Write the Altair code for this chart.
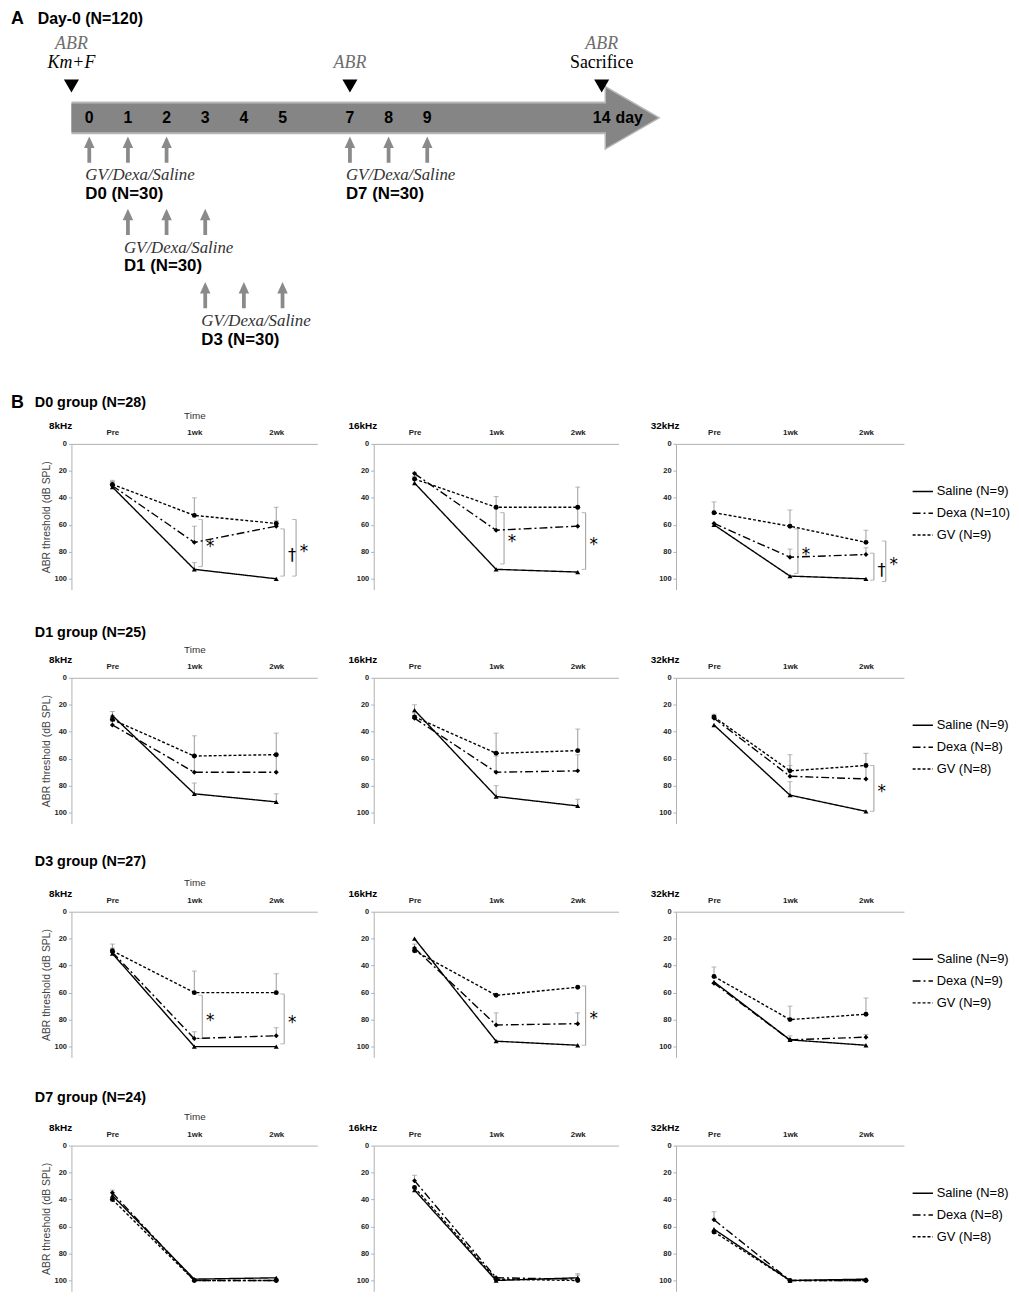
import altair as alt
import pandas as pd

SANS = "Liberation Sans"
SERIF = "Liberation Serif"

# ---------------- Panel A: experimental schedule ----------------
BAR_DAYS = [0, 1, 2, 3, 4, 5, 7, 8, 9, 14]
TIMELINE_START = -0.5
TIMELINE_EDGE_END = 14.09
TIMELINE_FILL_END = 14.2
TIMELINE_HEAD_DAY = 14.76

EVENT_DAYS = [TIMELINE_START, 7, 14]
EVENT_ABR_LANE = [-3, -2, -3]
EVENT_ACTION = ["Km+F", "", "Sacrifice"]

GROUP_LABELS = ["D0 (N=30)", "D1 (N=30)", "D3 (N=30)", "D7 (N=30)"]
GROUP_DAYS = [[0, 1, 2], [1, 2, 3], [3, 4, 5], [7, 8, 9]]
GROUP_LANE = [1, 2, 3, 1]
DRUGS_TEXT = "GV/Dexa/Saline"

# ---------------- Panel B: ABR thresholds (dB SPL) ----------------
TIMES = ["Pre", "1wk", "2wk"]
TREATMENTS = ["Saline", "Dexa", "GV"]
DASHES = [[1, 0], [8, 3, 2, 3], [3, 2]]
SHAPES = ["triangle-up", "diamond", "circle"]
GROUPS = ["D0", "D1", "D3", "D7"]
GROUP_TITLES = ["D0 group (N=28)", "D1 group (N=25)", "D3 group (N=27)", "D7 group (N=24)"]
FREQS = ["8kHz", "16kHz", "32kHz"]
GROUP_N = [[9, 10, 9], [9, 8, 8], [9, 9, 9], [8, 8, 8]]

D0_8K = {"Saline": [32, 93, 100], "Dexa": [31, 73, 61], "GV": [30, 53, 59]}
D0_8K_ERR = {"Saline": [4, 5, 0], "Dexa": [3, 12, 4], "GV": [3, 13, 12]}
D0_16K = {"Saline": [29, 93, 95], "Dexa": [22, 64, 61], "GV": [26, 47, 47]}
D0_16K_ERR = {"Saline": [3, 0, 0], "Dexa": [1, 16, 13], "GV": [2, 8, 15]}
D0_32K = {"Saline": [60, 98, 100], "Dexa": [59, 84, 82], "GV": [51, 61, 73]}
D0_32K_ERR = {"Saline": [0, 0, 0], "Dexa": [0, 6, 5], "GV": [8, 12, 9]}

D1_8K = {"Saline": [28, 86, 92], "Dexa": [35, 70, 70], "GV": [31, 58, 57]}
D1_8K_ERR = {"Saline": [3, 8, 6], "Dexa": [3, 12, 13], "GV": [3, 15, 16]}
D1_16K = {"Saline": [24, 88, 95], "Dexa": [30, 70, 69], "GV": [29, 56, 54]}
D1_16K_ERR = {"Saline": [4, 8, 5], "Dexa": [2, 12, 12], "GV": [3, 15, 16]}
D1_32K = {"Saline": [35, 87, 99], "Dexa": [30, 73, 75], "GV": [29, 69, 65]}
D1_32K_ERR = {"Saline": [0, 10, 0], "Dexa": [2, 8, 10], "GV": [2, 12, 9]}

D3_8K = {"Saline": [31, 100, 100], "Dexa": [30, 94, 92], "GV": [29, 60, 60]}
D3_8K_ERR = {"Saline": [0, 0, 0], "Dexa": [3, 5, 6], "GV": [5, 16, 14]}
D3_16K = {"Saline": [20, 96, 99], "Dexa": [27, 84, 83], "GV": [29, 62, 56]}
D3_16K_ERR = {"Saline": [0, 0, 0], "Dexa": [3, 9, 8], "GV": [0, 0, 0]}
D3_32K = {"Saline": [52, 95, 99], "Dexa": [53, 95, 93], "GV": [48, 80, 76]}
D3_32K_ERR = {"Saline": [0, 0, 0], "Dexa": [0, 3, 2], "GV": [7, 10, 12]}

D7_8K = {"Saline": [37, 99, 98], "Dexa": [35, 100, 100], "GV": [40, 100, 100]}
D7_8K_ERR = {"Saline": [0, 0, 0], "Dexa": [2, 0, 1], "GV": [0, 0, 0]}
D7_16K = {"Saline": [33, 100, 98], "Dexa": [26, 98, 99], "GV": [31, 99, 100]}
D7_16K_ERR = {"Saline": [0, 0, 3], "Dexa": [4, 0, 3], "GV": [0, 0, 0]}
D7_32K = {"Saline": [62, 100, 99], "Dexa": [55, 100, 100], "GV": [64, 100, 100]}
D7_32K_ERR = {"Saline": [0, 0, 0], "Dexa": [6, 0, 0], "GV": [0, 0, 0]}

# significance brackets: (time, from, to, label, level)
D0_8K_SIG = [("1wk", 56, 91, "*", 0), ("2wk", 63, 98, "†", 0), ("2wk", 56, 98, "*", 1)]
D0_16K_SIG = [("1wk", 51, 89, "*", 0), ("2wk", 51, 93, "*", 0)]
D0_32K_SIG = [("1wk", 63, 96, "*", 0), ("2wk", 81, 101, "†", 0), ("2wk", 72, 102, "*", 1)]
D1_32K_SIG = [("2wk", 65, 99, "*", 0)]
D3_8K_SIG = [("1wk", 62, 94, "*", 0), ("2wk", 61, 98, "*", 0)]
D3_16K_SIG = [("2wk", 55, 99, "*", 0)]

MEANS = {
    ("D0", "8kHz"): D0_8K, ("D0", "16kHz"): D0_16K, ("D0", "32kHz"): D0_32K,
    ("D1", "8kHz"): D1_8K, ("D1", "16kHz"): D1_16K, ("D1", "32kHz"): D1_32K,
    ("D3", "8kHz"): D3_8K, ("D3", "16kHz"): D3_16K, ("D3", "32kHz"): D3_32K,
    ("D7", "8kHz"): D7_8K, ("D7", "16kHz"): D7_16K, ("D7", "32kHz"): D7_32K,
}
ERRS = {
    ("D0", "8kHz"): D0_8K_ERR, ("D0", "16kHz"): D0_16K_ERR, ("D0", "32kHz"): D0_32K_ERR,
    ("D1", "8kHz"): D1_8K_ERR, ("D1", "16kHz"): D1_16K_ERR, ("D1", "32kHz"): D1_32K_ERR,
    ("D3", "8kHz"): D3_8K_ERR, ("D3", "16kHz"): D3_16K_ERR, ("D3", "32kHz"): D3_32K_ERR,
    ("D7", "8kHz"): D7_8K_ERR, ("D7", "16kHz"): D7_16K_ERR, ("D7", "32kHz"): D7_32K_ERR,
}
SIGS = {
    ("D0", "8kHz"): D0_8K_SIG, ("D0", "16kHz"): D0_16K_SIG, ("D0", "32kHz"): D0_32K_SIG,
    ("D1", "32kHz"): D1_32K_SIG, ("D3", "8kHz"): D3_8K_SIG, ("D3", "16kHz"): D3_16K_SIG,
}

# ---------------- layout ----------------
WA, HA = 596, 300
W_COLS = [248, 247, 230]
H_PANEL = 147
ROW_SPACING = 89
COL_SPACING = 57
A_B_SPACING = 47
HEADER_DY = [-41, -45, -50, -48]
ARROW_GRAY = "#858585"
EDGE_GRAY = "#b8b8b8"
BRACKET_GRAY = "#9a9a9a"

# ================= Panel A =================
xA = alt.Scale(domain=[-0.5, 0, 5, 7, 9, 14, 15.5],
               range=[0, 18, 213, 281, 359, 535, 596], nice=False, zero=False)
yA = alt.Scale(domain=[-3, -2, -1, 0, 1, 2, 3],
               range=[10, 29, 52, 84, 116, 189, 263], nice=False, zero=False)


def ax(field):
    return alt.X(field, type="quantitative", scale=xA, axis=None)


def ay(field):
    return alt.Y(field, type="quantitative", scale=yA, axis=None)


head_df = pd.DataFrame({"day": [TIMELINE_HEAD_DAY], "lane": [0]})
edge_df = pd.DataFrame({"start": [TIMELINE_START], "end": [TIMELINE_EDGE_END], "lane": [0]})
fill_df = pd.DataFrame({"start": [TIMELINE_START], "end": [TIMELINE_FILL_END], "lane": [0]})

head = alt.Chart(head_df).mark_point(shape="triangle-right", size=3969, filled=True,
                                     fill=ARROW_GRAY, stroke=EDGE_GRAY, strokeWidth=1.5,
                                     opacity=1).encode(x=ax("day"), y=ay("lane"))
body_edge = alt.Chart(edge_df).mark_rule(strokeWidth=33, color=EDGE_GRAY, strokeCap="butt").encode(
    x=ax("start"), x2="end:Q", y=ay("lane"))
body = alt.Chart(fill_df).mark_rule(strokeWidth=29, color=ARROW_GRAY, strokeCap="butt").encode(
    x=ax("start"), x2="end:Q", y=ay("lane"))

bar_df = pd.DataFrame({"day": BAR_DAYS, "label": [str(d) for d in BAR_DAYS], "lane": [0] * len(BAR_DAYS)})
numbers = alt.Chart(bar_df).mark_text(font=SANS, fontWeight="bold", fontSize=16, color="black").encode(
    x=ax("day"), y=ay("lane"), text="label:N")
day_word = alt.Chart(pd.DataFrame({"day": [14], "lane": [0], "t": ["day"]})).mark_text(
    font=SANS, fontWeight="bold", fontSize=16, color="black", align="left", dx=14).encode(
    x=ax("day"), y=ay("lane"), text="t:N")

event_df = pd.DataFrame({"day": EVENT_DAYS, "abr_lane": EVENT_ABR_LANE, "action": EVENT_ACTION,
                         "marker_lane": [-1] * 3, "action_lane": [-2] * 3, "abr": ["ABR"] * 3})
triangles = alt.Chart(event_df).mark_point(shape="triangle-down", size=230, filled=True,
                                           color="black", opacity=1).encode(
    x=ax("day"), y=ay("marker_lane"))
abr_text = alt.Chart(event_df).mark_text(font=SERIF, fontStyle="italic", fontSize=18, color="#6e6e6e").encode(
    x=ax("day"), y=ay("abr_lane"), text="abr:N")
km_text = alt.Chart(event_df.iloc[[0]]).mark_text(font=SERIF, fontStyle="italic", fontSize=18, color="black").encode(
    x=ax("day"), y=ay("action_lane"), text="action:N")
sac_text = alt.Chart(event_df.iloc[[2]]).mark_text(font=SERIF, fontSize=18, color="black").encode(
    x=ax("day"), y=ay("action_lane"), text="action:N")

arrow_rows = []
label_rows = []
for name, days, lane in zip(GROUP_LABELS, GROUP_DAYS, GROUP_LANE):
    for d in days:
        arrow_rows.append({"day": d, "lane": lane})
    label_rows.append({"day": days[0], "lane": lane, "name": name, "drugs": DRUGS_TEXT})
arrow_df = pd.DataFrame(arrow_rows)
label_df = pd.DataFrame(label_rows)

up_arrows = alt.Chart(arrow_df).mark_point(shape="arrow", size=700, filled=True, color="#8a8a8a",
                                           opacity=1).encode(x=ax("day"), y=ay("lane"))
drug_text = alt.Chart(label_df).mark_text(font=SERIF, fontStyle="italic", fontSize=17, color="#333333",
                                          align="left", dx=-4, dy=26).encode(
    x=ax("day"), y=ay("lane"), text="drugs:N")
name_text = alt.Chart(label_df).mark_text(font=SANS, fontWeight="bold", fontSize=17, color="black",
                                          align="left", dx=-4, dy=45).encode(
    x=ax("day"), y=ay("lane"), text="name:N")

title_df = pd.DataFrame({"a": ["A"], "t": ["Day-0 (N=120)"]})
title_a = alt.Chart(title_df).mark_text(font=SANS, fontWeight="bold", fontSize=18, align="left").encode(
    x=alt.value(-61), y=alt.value(-16), text="a:N")
title_t = alt.Chart(title_df).mark_text(font=SANS, fontWeight="bold", fontSize=16, align="left").encode(
    x=alt.value(-34), y=alt.value(-16), text="t:N")

panelA = alt.layer(head, body_edge, body, numbers, day_word, triangles, abr_text, km_text, sac_text,
                   up_arrows, drug_text, name_text, title_a, title_t).properties(width=WA, height=HA)


# ================= Panel B =================
def make_panel(gi, fi):
    g, f = GROUPS[gi], FREQS[fi]
    means, errs = MEANS[(g, f)], ERRS[(g, f)]
    sigs = SIGS.get((g, f), [])
    labels = [f"{t} (N={n})" for t, n in zip(TREATMENTS, GROUP_N[gi])]
    W = W_COLS[fi]

    rows = []
    for ti, t in enumerate(TIMES):
        for k, tr in enumerate(TREATMENTS):
            m = means[tr][ti]
            e = errs[tr][ti]
            rows.append({"time": t, "idx": ti, "treatment": tr, "legend": labels[k],
                         "value": m, "err": e, "upper": m - e})
    df = pd.DataFrame(rows)

    xs = alt.Scale(type="point", domain=TIMES, padding=0.5)
    ys = alt.Scale(domain=[0, 108], reverse=True, nice=False, zero=False)
    xaxis = alt.Axis(orient="top", title="Time" if fi == 0 else None, ticks=False, labelFont=SANS,
                     labelFontSize=8, labelFontWeight="bold", labelColor="#222222", labelPadding=7,
                     labelAngle=0, domainColor="#b0b0b0", titleFont=SANS, titleFontSize=10,
                     titleFontWeight="normal", titleColor="#333333", titlePadding=9)
    yaxis = alt.Axis(values=[0, 20, 40, 60, 80, 100],
                     title="ABR threshold (dB SPL)" if fi == 0 else None, grid=False, tickSize=3,
                     tickColor="#b0b0b0", domainColor="#b0b0b0", labelFont=SANS, labelFontSize=7.5,
                     labelFontWeight="bold", labelColor="#222222", labelPadding=2, titleFont=SANS,
                     titleFontSize=10.5, titleFontWeight="normal", titleColor="#444444", titlePadding=3)

    def X():
        return alt.X("time:O", scale=xs, axis=xaxis, sort=TIMES)

    def Y(field):
        return alt.Y(f"{field}:Q", scale=ys, axis=yaxis)

    layers = []
    err_df = df[df["err"] > 0]
    if len(err_df):
        layers.append(alt.Chart(err_df).mark_rule(color=BRACKET_GRAY, strokeWidth=1).encode(
            x=X(), y=Y("value"), y2="upper:Q"))
        layers.append(alt.Chart(err_df).mark_tick(color=BRACKET_GRAY, thickness=1, size=5,
                                                   orient="horizontal").encode(x=X(), y=Y("upper")))

    if sigs:
        sig_df = pd.DataFrame(sigs, columns=["time", "top", "bottom", "label", "level"])
        sig_df["mid"] = (sig_df["top"] + sig_df["bottom"]) / 2
        for level in sorted(sig_df["level"].unique()):
            sub = sig_df[sig_df["level"] == level]
            ends = pd.concat([sub[["time"]].assign(yv=sub["top"]),
                              sub[["time"]].assign(yv=sub["bottom"])])
            off = 8 + 12 * int(level)
            layers.append(alt.Chart(sub).mark_rule(color=BRACKET_GRAY, strokeWidth=1, xOffset=off).encode(
                x=X(), y=Y("top"), y2="bottom:Q"))
            layers.append(alt.Chart(ends).mark_tick(color=BRACKET_GRAY, thickness=1, size=4,
                                                    orient="horizontal", xOffset=off - 2).encode(
                x=X(), y=Y("yv")))
            layers.append(alt.Chart(sub).mark_text(font="DejaVu Sans", fontSize=17, color="black",
                                                   fill="black", xOffset=off + 8, dy=4).encode(
                x=X(), y=Y("mid"), text="label:N"))

    if fi == 2:
        leg = alt.Legend(title=None, orient="none", legendX=W + 8, legendY=37, symbolType="stroke",
                         symbolStrokeColor="black", symbolStrokeWidth=1.5, symbolSize=420,
                         labelFont=SANS, labelFontSize=13, labelColor="black", rowPadding=4,
                         labelOffset=3, padding=0)
    else:
        leg = None
    layers.append(alt.Chart(df).mark_line(color="black", strokeWidth=1.4).encode(
        x=X(), y=Y("value"), order=alt.Order("idx:Q"),
        strokeDash=alt.StrokeDash("legend:N", scale=alt.Scale(domain=labels, range=DASHES), legend=leg)))
    layers.append(alt.Chart(df).mark_point(filled=True, opacity=1, color="black", size=25).encode(
        x=X(), y=Y("value"),
        shape=alt.Shape("treatment:N", scale=alt.Scale(domain=TREATMENTS, range=SHAPES), legend=None)))

    layers.append(alt.Chart(pd.DataFrame({"t": [f]})).mark_text(
        font=SANS, fontWeight="bold", fontSize=10, color="black").encode(
        x=alt.value(-11), y=alt.value(-18), text="t:N"))
    if fi == 0:
        layers.append(alt.Chart(pd.DataFrame({"t": [GROUP_TITLES[gi]]})).mark_text(
            font=SANS, fontWeight="bold", fontSize=14.5, color="black", align="left").encode(
            x=alt.value(-37), y=alt.value(HEADER_DY[gi]), text="t:N"))
        if gi == 0:
            layers.append(alt.Chart(pd.DataFrame({"t": ["B"]})).mark_text(
                font=SANS, fontWeight="bold", fontSize=18, color="black", align="left").encode(
                x=alt.value(-61), y=alt.value(HEADER_DY[gi]), text="t:N"))

    return alt.layer(*layers).properties(width=W, height=H_PANEL)


panels = []
for gi in range(len(GROUPS)):
    for fi in range(len(FREQS)):
        panels.append(make_panel(gi, fi))

grid = alt.concat(*panels, columns=3, spacing={"row": ROW_SPACING, "column": COL_SPACING},
                  bounds="flush", align="all").resolve_scale(
    strokeDash="independent").resolve_legend(strokeDash="independent")

chart = alt.vconcat(panelA, grid, spacing=A_B_SPACING).resolve_scale(
    strokeDash="independent").resolve_legend(strokeDash="independent").properties(
    padding={"left": 3, "top": -4, "right": 0, "bottom": 4}, background="white"
).configure(font=SANS).configure_view(stroke=None)

chart.save("out.html", embed_options={"renderer": "svg", "actions": False})
